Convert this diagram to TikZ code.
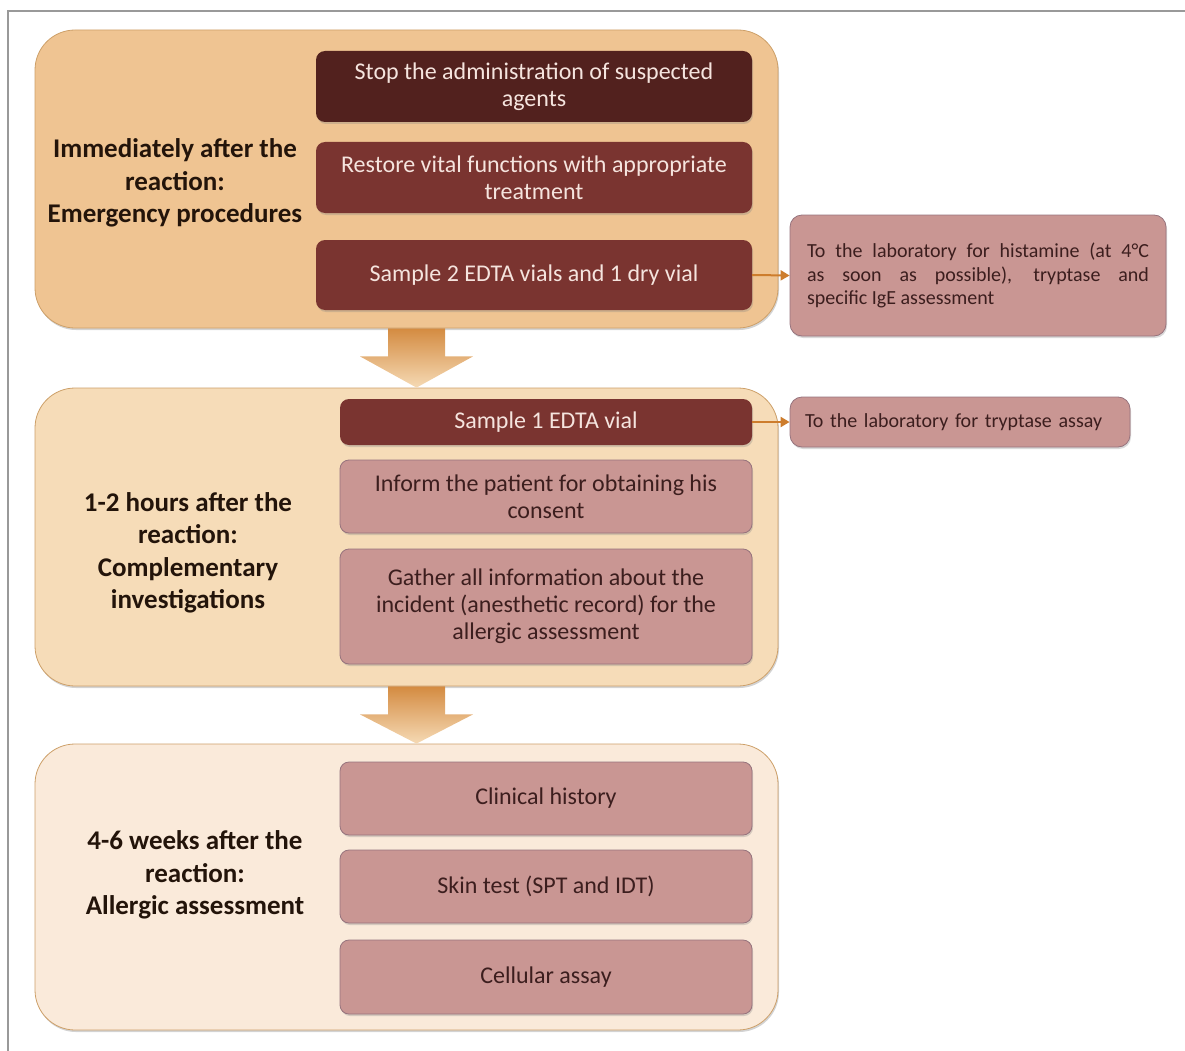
\documentclass[tikz,border=0pt]{standalone}
\usepackage{fontspec}
\setmainfont{Carlito}
\usetikzlibrary{arrows.meta,shadows}

\definecolor{stageA}{RGB}{239,196,146}
\definecolor{stageB}{RGB}{246,220,184}
\definecolor{stageC}{RGB}{250,234,218}
\definecolor{stageline}{RGB}{205,160,105}
\definecolor{darkbox}{RGB}{82,33,30}
\definecolor{redbox}{RGB}{122,52,48}
\definecolor{pinkbox}{RGB}{201,150,147}
\definecolor{pinkline}{RGB}{150,115,125}
\definecolor{linkcol}{RGB}{205,125,45}
\definecolor{labeltext}{RGB}{35,20,10}
\definecolor{lighttext}{RGB}{245,228,222}
\definecolor{darktext}{RGB}{60,30,30}

\tikzset{
  stage/.style={draw=stageline,line width=.8pt,rounded corners=40pt,inner sep=0pt,
    drop shadow={shadow xshift=1pt,shadow yshift=-2pt,opacity=.35}},
  stagelabel/.style={align=center,text=labeltext,font=\fontsize{27}{32.5}\selectfont\bfseries},
  darkstep/.style={fill=darkbox,rounded corners=9pt,align=center,text=lighttext,inner sep=0pt,
    font=\fontsize{24}{27}\selectfont,drop shadow={shadow xshift=1pt,shadow yshift=-2pt,opacity=.3}},
  pinkstep/.style={fill=pinkbox,draw=pinkline,line width=.8pt,rounded corners=9pt,align=center,text=darktext,
    inner sep=0pt,font=\fontsize{24}{27}\selectfont,drop shadow={shadow xshift=1pt,shadow yshift=-2pt,opacity=.3}},
  labbox/.style={fill=pinkbox,draw=pinkline,line width=.8pt,rounded corners=12pt,text=darktext,
    font=\fontsize{20}{23.5}\selectfont,drop shadow={shadow xshift=1pt,shadow yshift=-2pt,opacity=.3}},
  link/.style={draw=linkcol,line width=2pt,-{Triangle[length=9pt,width=10pt]}},
  bigarrow/.style={top color=linkcol!80!stageA,bottom color=stageB!90!stageA}
}

\begin{document}
\begin{tikzpicture}[x=1pt,y=-1pt]
  \useasboundingbox (0,0) rectangle (1185,1051);
  \draw[gray!80,line width=1.5pt] (8,1051) -- (8,11) -- (1185,11);

  % stages
  \node[stage,fill=stageA,minimum width=743pt,minimum height=298pt] (st1) at (406.5,179) {};
  \node[stage,fill=stageB,minimum width=743pt,minimum height=298pt] (st2) at (406.5,537) {};
  \node[stage,fill=stageC,minimum width=743pt,minimum height=286pt] (st3) at (406.5,887) {};

  \node[stagelabel] (lb1) at (175,183) {Immediately after the\\reaction:\\Emergency procedures};
  \node[stagelabel] (lb2) at (188,553) {1-2 hours after the\\reaction:\\Complementary\\investigations};
  \node[stagelabel] (lb3) at (195,875) {4-6 weeks after the\\reaction:\\Allergic assessment};

  % emergency procedures
  \node[darkstep,minimum width=436pt,minimum height=71pt] (s1a) at (534,86.5) {Stop the administration of suspected\\agents};
  \node[darkstep,fill=redbox,minimum width=436pt,minimum height=71pt] (s1b) at (534,177.5) {Restore vital functions with appropriate\\treatment};
  \node[darkstep,fill=redbox,minimum width=436pt,minimum height=70pt] (s1c) at (534,275) {Sample 2 EDTA vials and 1 dry vial};

  % complementary investigations
  \node[darkstep,fill=redbox,minimum width=412pt,minimum height=46pt] (s2a) at (546,422) {Sample 1 EDTA vial};
  \node[pinkstep,minimum width=412pt,minimum height=73pt] (s2b) at (546,496.5) {Inform the patient for obtaining his\\consent};
  \node[pinkstep,minimum width=412pt,minimum height=115pt] (s2c) at (546,606.5) {Gather all information about the\\incident (anesthetic record) for the\\allergic assessment};

  % allergic assessment
  \node[pinkstep,minimum width=412pt,minimum height=73pt] (s3a) at (546,798.5) {Clinical history};
  \node[pinkstep,minimum width=412pt,minimum height=73pt] (s3b) at (546,886.5) {Skin test (SPT and IDT)};
  \node[pinkstep,minimum width=412pt,minimum height=74pt] (s3c) at (546,977) {Cellular assay};

  % laboratory
  \node[labbox,minimum width=376pt,minimum height=121pt,inner xsep=17pt,text width=342pt,align=justify] (r1) at (978,275.5)
    {\hyphenpenalty=10000 To the laboratory for histamine (at 4°C\linebreak as soon as possible), tryptase and\linebreak specific IgE assessment};
  \node[labbox,minimum width=340pt,minimum height=50pt,inner xsep=15pt,text width=310pt,align=left] (r2) at (960,422)
    {To the laboratory for tryptase assay};

  \draw[link] (s1c.east) -- (r1.west);
  \draw[link] (s2a.east) -- (r2.west);

  % block arrows between stages
  \coordinate (a1) at ([xshift=10pt]st1.south);
  \coordinate (t1) at ([xshift=10pt]st2.north);
  \coordinate (a2) at ([xshift=10pt]st2.south);
  \coordinate (t2) at ([xshift=10pt]st3.north);
  \shade[bigarrow] ([xshift=-28.5pt]a1) -- ([xshift=28.5pt]a1) -- ([xshift=28.5pt,yshift=-28pt]a1)
    -- ([xshift=56.5pt,yshift=-28pt]a1) -- (t1) -- ([xshift=-56.5pt,yshift=-28pt]a1)
    -- ([xshift=-28.5pt,yshift=-28pt]a1) -- cycle;
  \shade[bigarrow] ([xshift=-28.5pt]a2) -- ([xshift=28.5pt]a2) -- ([xshift=28.5pt,yshift=-28pt]a2)
    -- ([xshift=56.5pt,yshift=-28pt]a2) -- (t2) -- ([xshift=-56.5pt,yshift=-28pt]a2)
    -- ([xshift=-28.5pt,yshift=-28pt]a2) -- cycle;
\end{tikzpicture}
\end{document}
